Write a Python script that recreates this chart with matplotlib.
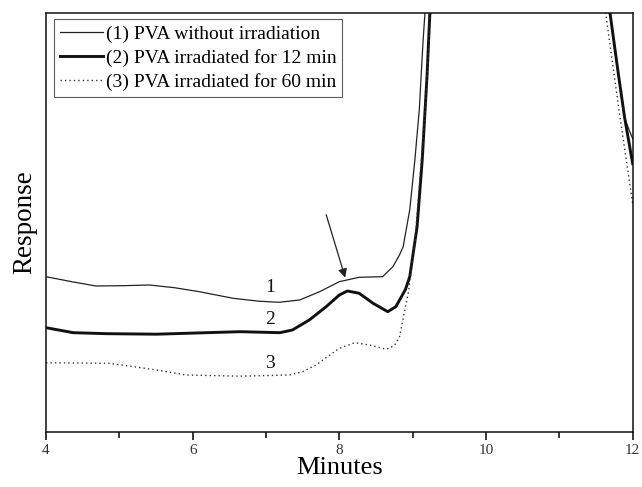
import matplotlib
matplotlib.use("Agg")
import matplotlib.pyplot as plt

plt.rcParams['font.family'] = ['Liberation Serif', 'DejaVu Serif']

# Curve 1: PVA without irradiation
x1 = [4.0, 4.35, 4.68, 5.05, 5.41, 5.75, 6.09, 6.55, 6.9, 7.18, 7.46, 7.73, 8.0, 8.27,
      8.59, 8.73, 8.82, 8.87, 8.96, 9.03, 9.09, 9.14, 9.17, 9.3, 10.5, 11.55, 11.69,
      11.8, 11.89, 11.95, 12.0]
y1 = [155, 150, 145.7, 146, 146.7, 144, 140, 133.4, 130.5, 129.4, 131.7, 140, 150, 154.4,
      155, 165, 176.7, 185, 222, 272, 322, 389, 422, 560, 1200, 520, 419,
      360, 314, 302, 293]

# Curve 2: PVA irradiated for 12 min
x2 = [4.0, 4.37, 4.83, 5.51, 6.19, 6.65, 7.19, 7.36, 7.59, 7.82, 8.0, 8.11, 8.27,
      8.46, 8.66, 8.77, 8.9, 8.96, 9.06, 9.13, 9.195, 9.236, 9.35, 10.5, 11.55, 11.69,
      11.8, 11.89, 12.0]
y2 = [104, 99, 98, 97.5, 99, 100, 99, 101.7, 111.7, 125, 136.7, 140.7, 138.4,
      128.4, 120, 125, 142, 155, 205, 272, 355, 422, 600, 1200, 520, 419,
      360, 314, 268]

# Curve 3: PVA irradiated for 60 min
x3 = [4.0, 4.86, 5.2, 5.5, 5.91, 6.65, 7.32, 7.5, 7.68, 8.0, 8.21, 8.41, 8.64, 8.75,
      8.82, 8.94, 9.03, 9.1, 9.17, 9.22, 9.25, 9.4, 10.5, 11.5, 11.64, 11.82, 12.0]
y3 = [68.9, 68.4, 65, 61.7, 56.7, 55.5, 56.7, 60, 66.7, 83.4, 89, 86.7, 82.4, 86,
      95, 139, 189, 255, 322, 389, 422, 620, 1200, 500, 414, 318, 228]

labels = ['(1) PVA without irradiation',
          '(2) PVA irradiated for 12 min',
          '(3) PVA irradiated for 60 min']
curve_tags = ['1', '2', '3']
tag_pos = [(7.05, 144), (7.05, 112), (7.05, 68)]
arrow_from = (7.82, 217)
arrow_to = (8.08, 154)

xticks = [4, 6, 8, 10, 12]
xminor = [5, 7, 9, 11]

fig = plt.figure(figsize=(6.42, 4.87), dpi=100)
ax = fig.add_axes([0.0717, 0.1136, 0.9138, 0.8603])

ax.plot(x1, y1, color='#222222', lw=0.9, label=labels[0])
ax.plot(x2, y2, color='#111111', lw=2.1, label=labels[1])
ax.plot(x3, y3, color='#333333', lw=1.0, linestyle=(0, (1, 2.2)), label=labels[2])

for t, (tx, ty) in zip(curve_tags, tag_pos):
    ax.text(tx, ty, t, fontsize=14, ha='center', va='center', color='#111111')

ax.annotate('', xy=arrow_to, xytext=arrow_from,
            arrowprops=dict(arrowstyle='-|>', color='#222222', lw=0.9,
                            mutation_scale=13, shrinkA=0, shrinkB=0))

ax.set_xlim(4, 12)
ax.set_ylim(0, 419)
ax.set_xticks(xticks)
ax.set_xticks(xminor, minor=True)
ax.set_xticklabels([str(v) for v in xticks], fontsize=11, color='#333333')
ax.set_yticks([])
ax.tick_params(axis='x', which='major', direction='out', length=6, width=1.1, pad=3)
ax.tick_params(axis='x', which='minor', direction='out', length=4, width=1.1)
for s in ax.spines.values():
    s.set_linewidth(1.1)
    s.set_color('#111111')

ax.set_xlabel('Minutes', fontsize=19, labelpad=0)
ax.set_ylabel('Response', fontsize=19.5, labelpad=6)

leg = ax.legend(loc='upper left', bbox_to_anchor=(0.0136, 0.985), borderaxespad=0,
                fontsize=14, frameon=True, fancybox=False, handlelength=2.2,
                handletextpad=0.15, labelspacing=0.32, borderpad=0.3, edgecolor='#333333')
leg.get_frame().set_linewidth(0.8)

fig.savefig('out.png', dpi=100)
